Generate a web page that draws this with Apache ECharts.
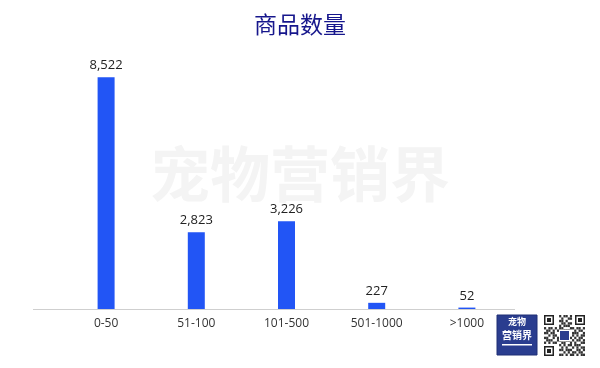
<!DOCTYPE html>
<html><head><meta charset="utf-8">
<script src="https://cdn.jsdelivr.net/npm/echarts@6/dist/echarts.min.js"></script>
<style>html,body{margin:0;padding:0;background:#fff}#c{width:600px;height:368px}</style>
</head><body><div id="c"></div>
<script>
const titleText = "商品数量";
const categories = ["0-50", "51-100", "101-500", "501-1000", ">1000"];
const counts = [8522, 2823, 3226, 227, 52];
const watermark = "宠物营销界";

const chart = echarts.init(document.getElementById('c'), null, {renderer: 'canvas'});

// simple QR-like decoration
const qr = [];
const qx = 544, qy = 315, qs = 41;
function finder(x, y) {
  qr.push({type:'rect', shape:{x:x, y:y, width:10, height:10}, style:{fill:'#222'}});
  qr.push({type:'rect', shape:{x:x+1.5, y:y+1.5, width:7, height:7}, style:{fill:'#fff'}});
  qr.push({type:'rect', shape:{x:x+3, y:y+3, width:4, height:4}, style:{fill:'#222'}});
}
const pattern = [
  "0000000101101000000",
  "0000000010011000000",
  "0000000110100000000",
  "0000000011011000000",
  "0000000101110000000",
  "1011010110001101101",
  "0110101001110010110",
  "1101100100010111001",
  "0010110100100101011",
  "1100101000011010110",
  "0111001100110101101",
  "1010110011001010011",
  "0000000101011011100",
  "0000000010100101011",
  "0000000110111001101",
  "0000000001010110110",
  "0000000110101101011"
];
const cell = qs / 19;
pattern.forEach((row, r) => {
  for (let c = 0; c < row.length; c++) {
    if (row[c] === '1') qr.push({type:'rect', shape:{x:qx + c*cell, y:qy + r*cell*19/17, width:cell, height:cell*19/17}, style:{fill:'#333'}});
  }
});
finder(qx, qy); finder(qx + qs - 10, qy); finder(qx, qy + qs - 10);
qr.push({type:'rect', shape:{x:qx+15, y:qy+15, width:11, height:11}, style:{fill:'#fff'}});
qr.push({type:'rect', shape:{x:qx+16, y:qy+16, width:9, height:9}, style:{fill:'#2a3d8f'}});

chart.setOption({
  animation: false,
  backgroundColor: '#fff',
  title: {
    text: titleText, left: 'center', top: 8,
    textStyle: {fontFamily: '"Noto Sans CJK SC", sans-serif', fontSize: 23, fontWeight: 'normal', color: '#16168c'}
  },
  grid: {left: 61, right: 88, top: 37, bottom: 59},
  xAxis: {
    type: 'category', data: categories,
    axisLine: {show: false}, axisTick: {show: false},
    axisLabel: {margin: 9, fontSize: 12, color: '#333', fontFamily: '"Open Sans", "Noto Sans", sans-serif'}
  },
  yAxis: {type: 'value', min: 0, max: 10000, show: false, splitLine: {show: false}},
  series: [{
    type: 'bar', data: counts, barWidth: 17,
    itemStyle: {color: '#2255f5'},
    label: {
      show: true, position: 'top', distance: 5, fontSize: 13, color: '#222',
      fontFamily: '"Open Sans", "Noto Sans", sans-serif',
      formatter: p => p.value.toLocaleString('en-US')
    },
    z: 5
  }],
  graphic: [
    {type: 'text', left: 'center', top: 144, z: -1, silent: true,
     style: {text: watermark, font: 'bold 60px "Noto Sans CJK SC", sans-serif', fill: '#f4f4f4'}},
    {type: 'line', shape: {x1: 33, y1: 309.5, x2: 515, y2: 309.5}, style: {stroke: '#cfcfcf', lineWidth: 1}, z: 1},
    {type: 'rect', shape: {x: 497, y: 315, width: 40, height: 40}, style: {fill: '#2a3d8f', stroke: '#1e2f75', lineWidth: 1}},
    {type: 'text', x: 517, y: 322, style: {text: '宠物', font: 'bold 9px "Noto Sans CJK SC", sans-serif', fill: '#fff', textAlign: 'center', textVerticalAlign: 'middle'}},
    {type: 'text', x: 517, y: 335, style: {text: '营销界', font: 'bold 10px "Noto Sans CJK SC", sans-serif', fill: '#fff', textAlign: 'center', textVerticalAlign: 'middle'}},
    {type: 'rect', shape: {x: 502, y: 344, width: 30, height: 1.5}, style: {fill: '#fff'}},
    {type: 'group', children: qr}
  ]
});
</script></body></html>
